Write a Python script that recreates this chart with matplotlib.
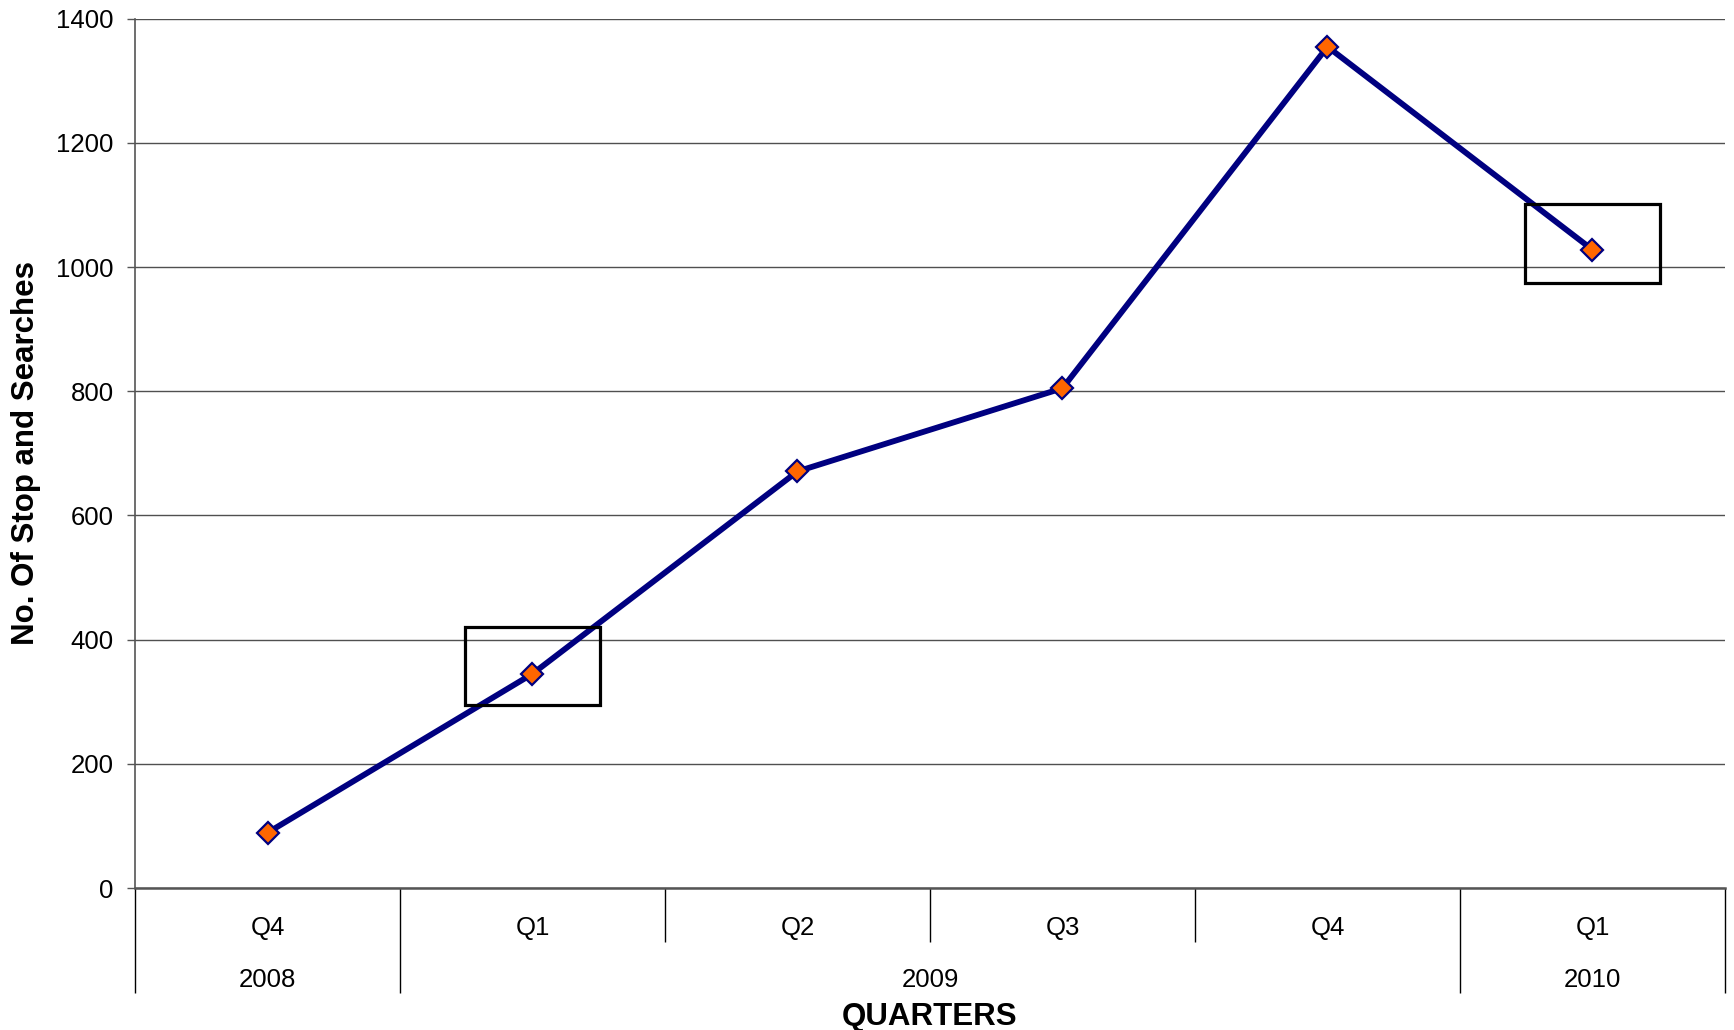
import matplotlib
matplotlib.use("Agg")
import matplotlib.pyplot as plt
from matplotlib.patches import Rectangle

plt.rcParams['font.family'] = ['Liberation Sans', 'DejaVu Sans']

# ---- data ----
quarters = ["Q4", "Q1", "Q2", "Q3", "Q4", "Q1"]
years = ["2008", "2009", "2009", "2009", "2009", "2010"]
values = [89, 345, 671, 805, 1355, 1028]
highlight_idx = [1, 5]
highlight_low = [295, 975]
highlight_high = [420, 1102]
yticks = [0, 200, 400, 600, 800, 1000, 1200, 1400]

DPI = 100
fig = plt.figure(figsize=(17.34, 10.30), dpi=DPI)
ax = fig.add_axes([135/1734, 1 - 888/1030, 1590/1734, (888 - 18.8)/1030])

n = len(values)
xs = [i + 0.5 for i in range(n)]

ax.plot(xs, values, color='#000080', lw=4.2, marker='D', ms=11,
        markerfacecolor='#FF6600', markeredgecolor='#000080', markeredgewidth=1.6,
        zorder=4, clip_on=False)

for idx, lo, hi in zip(highlight_idx, highlight_low, highlight_high):
    ax.add_patch(Rectangle((xs[idx] - 0.255, lo), 0.51, hi - lo, fill=False,
                           edgecolor='black', lw=2.3, zorder=5))

ax.set_xlim(0, n)
ax.set_ylim(0, 1400)
ax.set_yticks(yticks)
ax.set_yticklabels([str(v) for v in yticks], fontsize=18.5)
ax.tick_params(axis='y', length=5.8, width=1, color='#555555', pad=9.5)

ax.yaxis.grid(True, color='#505050', lw=1.0)
ax.set_axisbelow(True)
for s in ['top', 'right']:
    ax.spines[s].set_visible(False)
ax.spines['left'].set_color('#555555')
ax.spines['left'].set_linewidth(1.2)
ax.spines['bottom'].set_color('#555555')
ax.spines['bottom'].set_linewidth(1.8)

# category boundaries: long where the year changes, short otherwise
long_b, short_b = [0, n], []
for i in range(1, n):
    (long_b if years[i] != years[i - 1] else short_b).append(i)
ax.set_xticks(sorted(long_b))
ax.set_xticks(short_b, minor=True)
ax.set_xticklabels([])
ax.tick_params(axis='x', which='major', length=105 * 72 / DPI, width=1, color='black', direction='out')
ax.tick_params(axis='x', which='minor', length=54 * 72 / DPI, width=1, color='black', direction='out')

# quarter labels
for x, q in zip(xs, quarters):
    ax.annotate(q, xy=(x, 0), xycoords=('data', 'axes fraction'),
                xytext=(0, -40 * 72 / DPI), textcoords='offset points',
                ha='center', va='center', fontsize=18.5)

# year labels
groups = []
for i, y in enumerate(years):
    if groups and groups[-1][0] == y:
        groups[-1][2] = i + 1
    else:
        groups.append([y, i, i + 1])
for y, a, b in groups:
    ax.annotate(y, xy=((a + b) / 2, 0), xycoords=('data', 'axes fraction'),
                xytext=(0, -92 * 72 / DPI), textcoords='offset points',
                ha='center', va='center', fontsize=18.5)

ax.annotate("QUARTERS", xy=(0.5, 0), xycoords='axes fraction',
            xytext=(0, -128.5 * 72 / DPI), textcoords='offset points',
            ha='center', va='center', fontsize=22.5, fontweight='bold')

ax.set_ylabel("No. Of Stop and Searches", fontsize=22.5, fontweight='bold')
ax.yaxis.set_label_coords(-0.0685, 0.5)
ax.yaxis.label.set_va('center')

fig.savefig("out.png", dpi=DPI)
